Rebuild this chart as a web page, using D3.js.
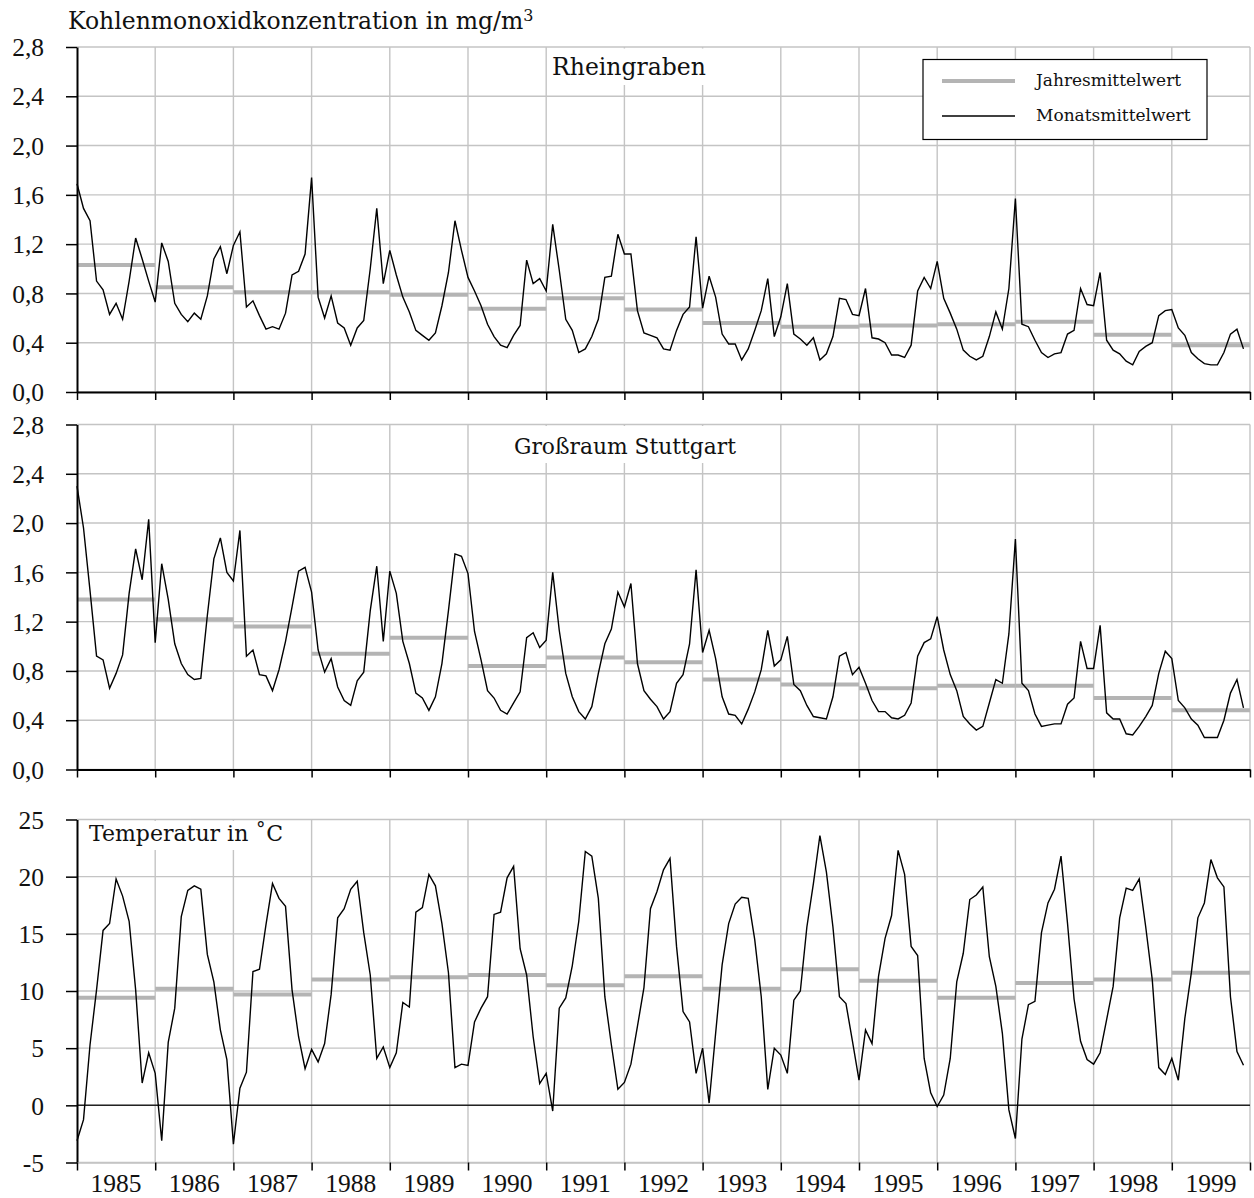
<!DOCTYPE html>
<html lang="de">
<head>
<meta charset="utf-8">
<title>Kohlenmonoxid und Temperatur 1985-1999</title>
<script src="https://cdn.jsdelivr.net/npm/d3@7"></script>
<style>
  html, body { margin: 0; padding: 0; background: #fff; }
  svg { display: block; }
</style>
</head>
<body>
<div id="chart"></div>
<script>
// --- Daten ---
const jahre = [1985, 1986, 1987, 1988, 1989, 1990, 1991, 1992, 1993, 1994, 1995, 1996, 1997, 1998, 1999];

// Rheingraben: Monatsmittelwerte CO in mg/m3 (Jan 1985 ... Dez 1999)
const coRheinMonat = [
  1.69, 1.49, 1.39, 0.90, 0.83, 0.63, 0.72, 0.59, 0.90, 1.25, 1.08, 0.90,
  0.73, 1.21, 1.06, 0.72, 0.63, 0.57, 0.64, 0.59, 0.78, 1.08, 1.18, 0.96,
  1.19, 1.30, 0.69, 0.74, 0.62, 0.51, 0.53, 0.51, 0.64, 0.95, 0.98, 1.12,
  1.74, 0.77, 0.60, 0.78, 0.56, 0.52, 0.38, 0.52, 0.58, 1.00, 1.49, 0.88,
  1.15, 0.95, 0.77, 0.65, 0.50, 0.46, 0.42, 0.48, 0.70, 0.97, 1.39, 1.15,
  0.93, 0.82, 0.70, 0.55, 0.45, 0.38, 0.36, 0.46, 0.54, 1.07, 0.88, 0.92,
  0.82, 1.36, 0.99, 0.59, 0.50, 0.32, 0.35, 0.45, 0.59, 0.93, 0.94, 1.28,
  1.12, 1.12, 0.66, 0.48, 0.46, 0.44, 0.35, 0.34, 0.50, 0.63, 0.69, 1.26,
  0.68, 0.94, 0.77, 0.47, 0.39, 0.39, 0.26, 0.35, 0.50, 0.66, 0.92, 0.45,
  0.61, 0.88, 0.47, 0.43, 0.38, 0.44, 0.26, 0.31, 0.45, 0.76, 0.75, 0.63,
  0.62, 0.84, 0.44, 0.43, 0.40, 0.30, 0.30, 0.28, 0.38, 0.82, 0.93, 0.84,
  1.06, 0.76, 0.64, 0.51, 0.34, 0.29, 0.26, 0.29, 0.45, 0.65, 0.51, 0.84,
  1.57, 0.55, 0.53, 0.42, 0.32, 0.28, 0.31, 0.32, 0.47, 0.50, 0.84, 0.71,
  0.70, 0.97, 0.42, 0.34, 0.31, 0.25, 0.22, 0.33, 0.37, 0.40, 0.62, 0.66,
  0.67, 0.52, 0.46, 0.32, 0.27, 0.23, 0.22, 0.22, 0.32, 0.47, 0.51, 0.35
];
const coRheinJahr = [1.03, 0.85, 0.81, 0.81, 0.79, 0.675, 0.76, 0.67, 0.56, 0.53, 0.54, 0.55, 0.57, 0.465, 0.38];

// Großraum Stuttgart: Monatsmittelwerte CO in mg/m3
const coStuttMonat = [
  2.30, 1.96, 1.45, 0.92, 0.89, 0.66, 0.78, 0.93, 1.43, 1.79, 1.54, 2.03,
  1.03, 1.67, 1.38, 1.02, 0.86, 0.77, 0.73, 0.74, 1.25, 1.71, 1.88, 1.60,
  1.53, 1.94, 0.92, 0.97, 0.77, 0.76, 0.64, 0.81, 1.04, 1.32, 1.61, 1.64,
  1.44, 0.97, 0.79, 0.90, 0.67, 0.56, 0.52, 0.72, 0.79, 1.29, 1.65, 1.04,
  1.61, 1.43, 1.04, 0.86, 0.62, 0.58, 0.48, 0.59, 0.86, 1.29, 1.75, 1.73,
  1.59, 1.12, 0.89, 0.64, 0.58, 0.48, 0.45, 0.54, 0.63, 1.07, 1.11, 0.99,
  1.05, 1.60, 1.13, 0.78, 0.59, 0.47, 0.41, 0.51, 0.78, 1.02, 1.14, 1.44,
  1.32, 1.51, 0.86, 0.64, 0.57, 0.51, 0.41, 0.47, 0.70, 0.77, 1.02, 1.62,
  0.95, 1.13, 0.90, 0.59, 0.45, 0.44, 0.37, 0.49, 0.63, 0.81, 1.13, 0.84,
  0.89, 1.08, 0.69, 0.64, 0.52, 0.43, 0.42, 0.41, 0.59, 0.92, 0.95, 0.77,
  0.83, 0.70, 0.56, 0.47, 0.47, 0.42, 0.41, 0.44, 0.54, 0.92, 1.03, 1.06,
  1.24, 0.97, 0.77, 0.64, 0.43, 0.37, 0.32, 0.35, 0.54, 0.73, 0.70, 1.10,
  1.87, 0.70, 0.64, 0.45, 0.35, 0.36, 0.37, 0.37, 0.53, 0.58, 1.04, 0.82,
  0.82, 1.17, 0.46, 0.41, 0.41, 0.29, 0.28, 0.35, 0.43, 0.52, 0.78, 0.96,
  0.90, 0.56, 0.50, 0.41, 0.36, 0.26, 0.26, 0.26, 0.40, 0.62, 0.73, 0.50
];
const coStuttJahr = [1.38, 1.22, 1.16, 0.94, 1.07, 0.84, 0.91, 0.87, 0.73, 0.69, 0.66, 0.68, 0.68, 0.58, 0.48];

// Temperatur in °C
const tempMonat = [
  -3.1, -1.25, 5.3, 10.1, 15.3, 15.9, 19.8, 18.3, 16.1, 10.1, 1.95, 4.6,
  2.8, -3.1, 5.5, 8.5, 16.5, 18.8, 19.2, 18.9, 13.2, 10.8, 6.6, 4.0,
  -3.4, 1.5, 2.9, 11.7, 11.9, 15.8, 19.4, 18.1, 17.4, 10.1, 6.0, 3.2,
  4.9, 3.8, 5.4, 9.7, 16.4, 17.2, 18.9, 19.6, 15.1, 11.4, 4.1, 5.1,
  3.3, 4.6, 9.0, 8.6, 16.9, 17.3, 20.2, 19.2, 15.9, 11.6, 3.3, 3.6,
  3.5, 7.3, 8.5, 9.5, 16.7, 16.9, 19.9, 20.9, 13.7, 11.4, 6.0, 1.9,
  2.8, -0.5, 8.5, 9.4, 12.2, 16.1, 22.2, 21.8, 18.1, 9.5, 5.3, 1.4,
  2.0, 3.6, 6.9, 10.3, 17.2, 18.7, 20.6, 21.6, 13.9, 8.2, 7.3, 2.8,
  5.0, 0.2, 6.3, 12.3, 15.9, 17.6, 18.2, 18.1, 14.5, 9.5, 1.4, 5.0,
  4.4, 2.8, 9.2, 10.0, 15.6, 19.4, 23.6, 20.4, 15.6, 9.5, 8.9, 5.6,
  2.2, 6.6, 5.4, 11.3, 14.6, 16.6, 22.3, 20.2, 13.9, 13.1, 4.1, 1.1,
  -0.1, 0.9, 4.1, 10.8, 13.3, 18.0, 18.4, 19.1, 13.0, 10.4, 6.3, -0.4,
  -2.9, 5.8, 8.8, 9.1, 15.1, 17.7, 18.9, 21.8, 15.9, 9.3, 5.6, 4.0,
  3.6, 4.6, 7.5, 10.4, 16.4, 19.0, 18.8, 19.8, 15.6, 11.0, 3.3, 2.7,
  4.1, 2.2, 7.6, 11.6, 16.4, 17.7, 21.5, 19.9, 19.1, 9.5, 4.7, 3.5
];
const tempJahr = [9.4, 10.2, 9.7, 11.0, 11.2, 11.4, 10.5, 11.3, 10.2, 11.9, 10.9, 9.4, 10.7, 11.0, 11.6];

// Achsenbeschriftungen
const coTicks = [0, 0.4, 0.8, 1.2, 1.6, 2.0, 2.4, 2.8];
const tempTicks = [-5, 0, 5, 10, 15, 20, 25];

// --- Layout ---
const breite = 1254, hoehe = 1198;
const links = 77, rechts = 1250;
const gitterFarbe = "#c4c4c4";
const mittelFarbe = "#b4b4b4";
const zahlFont = "'Liberation Serif', 'Times New Roman', serif";
const textFont = "'DejaVu Serif', serif";

const fmtCO = d => d3.format(".1f")(d).replace(".", ",");
const fmtTemp = d => String(d);

const svg = d3.select("#chart")
  .append("svg")
  .attr("width", breite)
  .attr("height", hoehe);

// gemeinsame x-Skala: Monatsindex 0..180 (12 Monate je Jahr)
const x = d3.scaleLinear().domain([0, 180]).range([links, rechts]);
const jahresGrenzen = d3.range(0, 181, 12);

const panels = [
  { monat: coRheinMonat, jahr: coRheinJahr, ticks: coTicks, oben: 47, unten: 392, fmt: fmtCO,
    titel: "Rheingraben", titelX: 629, titelY: 75, anker: "middle", groesse: 23.5, nullAchse: true },
  { monat: coStuttMonat, jahr: coStuttJahr, ticks: coTicks, oben: 424.5, unten: 769.5, fmt: fmtCO,
    titel: "Großraum Stuttgart", titelX: 625, titelY: 454, anker: "middle", groesse: 21.8, nullAchse: true },
  { monat: tempMonat, jahr: tempJahr, ticks: tempTicks, oben: 819.5, unten: 1162.5, fmt: fmtTemp,
    titel: "Temperatur in ˚C", titelX: 89, titelY: 841, anker: "start", groesse: 22, nullAchse: false }
];

panels.forEach(zeichnePanel);

function zeichnePanel(p) {
  const y = d3.scaleLinear()
    .domain([p.ticks[0], p.ticks[p.ticks.length - 1]])
    .range([p.unten, p.oben]);

  const g = svg.append("g");

  // horizontale Gitterlinien
  g.selectAll(".hgrid")
    .data(p.ticks)
    .join("line")
    .attr("x1", links).attr("x2", rechts)
    .attr("y1", d => y(d)).attr("y2", d => y(d))
    .attr("stroke", gitterFarbe)
    .attr("stroke-width", 1.4);

  // vertikale Gitterlinien an den Jahresgrenzen
  g.selectAll(".vgrid")
    .data(jahresGrenzen.slice(1))
    .join("line")
    .attr("x1", d => x(d)).attr("x2", d => x(d))
    .attr("y1", y.range()[1]).attr("y2", y.range()[0])
    .attr("stroke", gitterFarbe)
    .attr("stroke-width", 1.4);

  // Beschriftung mit weißem Hintergrund (unterbricht das Gitter)
  const label = g.append("text")
    .attr("x", p.titelX)
    .attr("y", p.titelY)
    .attr("text-anchor", p.anker)
    .style("font-family", textFont)
    .style("font-size", p.groesse + "px")
    .attr("fill", "#111")
    .text(p.titel);
  const bb = label.node().getBBox();
  g.insert("rect", "text")
    .attr("x", bb.x - 5)
    .attr("y", p.oben + 1.5)
    .attr("width", bb.width + 10)
    .attr("height", bb.y + bb.height + 4 - (p.oben + 1.5))
    .attr("fill", "#fff");

  // Jahresmittelwerte
  g.selectAll(".jahr")
    .data(p.jahr)
    .join("line")
    .attr("x1", (d, i) => x(i * 12))
    .attr("x2", (d, i) => x(i * 12 + 12))
    .attr("y1", d => y(d)).attr("y2", d => y(d))
    .attr("stroke", mittelFarbe)
    .attr("stroke-width", 4);

  // Nulllinie bei der Temperatur
  if (!p.nullAchse) {
    g.append("line")
      .attr("x1", links).attr("x2", rechts)
      .attr("y1", y(0)).attr("y2", y(0))
      .attr("stroke", "#222")
      .attr("stroke-width", 1.5);
  }

  // Monatsmittelwerte
  const linie = d3.line()
    .x((d, i) => x(i))
    .y(d => y(d));
  g.append("path")
    .datum(p.monat)
    .attr("fill", "none")
    .attr("stroke", "#000")
    .attr("stroke-width", 1.4)
    .attr("stroke-linejoin", "miter")
    .attr("d", linie);

  // y-Achse links
  const yAchse = g.append("g")
    .attr("transform", `translate(${links},0)`)
    .call(d3.axisLeft(y).tickValues(p.ticks).tickFormat(p.fmt).tickSize(11).tickSizeOuter(0).tickPadding(22));
  yAchse.select(".domain").attr("stroke", "#000").attr("stroke-width", 2);
  yAchse.selectAll(".tick line").attr("stroke", "#000").attr("stroke-width", 1.5);
  yAchse.selectAll(".tick text")
    .style("font-family", zahlFont)
    .style("font-size", "25.5px")
    .attr("fill", "#111")
    .attr("dy", "0.34em");

  // untere Achse: Striche an den Jahresgrenzen
  const xAchse = g.append("g")
    .attr("transform", `translate(0,${y(p.ticks[0])})`)
    .call(d3.axisBottom(x).tickValues(jahresGrenzen).tickFormat("").tickSize(8).tickSizeOuter(0));
  xAchse.select(".domain")
    .attr("stroke", p.nullAchse ? "#000" : gitterFarbe)
    .attr("stroke-width", p.nullAchse ? 2 : 1.4);
  xAchse.selectAll(".tick line").attr("stroke", "#000").attr("stroke-width", 1.5);
}

// Jahreszahlen unter dem unteren Diagramm
svg.selectAll(".jahrLabel")
  .data(jahre)
  .join("text")
  .attr("x", (d, i) => x(i * 12 + 6))
  .attr("y", 1192)
  .attr("text-anchor", "middle")
  .style("font-family", zahlFont)
  .style("font-size", "25.5px")
  .attr("fill", "#111")
  .text(d => d);

// Achsentitel oben
const titel = svg.append("text")
  .attr("x", 68)
  .attr("y", 29)
  .style("font-family", textFont)
  .style("font-size", "23.5px")
  .attr("fill", "#111");
titel.append("tspan").text("Kohlenmonoxidkonzentration in mg/m");
titel.append("tspan").attr("dy", -8).style("font-size", "16px").text("3");

// Legende
const legende = svg.append("g");
legende.append("rect")
  .attr("x", 923).attr("y", 59.5)
  .attr("width", 284).attr("height", 80)
  .attr("fill", "#fff")
  .attr("stroke", "#000")
  .attr("stroke-width", 1.2);
const legendeEintraege = [
  { text: "Jahresmittelwert", farbe: mittelFarbe, dicke: 4, y: 81 },
  { text: "Monatsmittelwert", farbe: "#000", dicke: 1.5, y: 116 }
];
legende.selectAll(".lline")
  .data(legendeEintraege)
  .join("line")
  .attr("x1", 942).attr("x2", 1015)
  .attr("y1", d => d.y).attr("y2", d => d.y)
  .attr("stroke", d => d.farbe)
  .attr("stroke-width", d => d.dicke);
legende.selectAll(".ltext")
  .data(legendeEintraege)
  .join("text")
  .attr("x", 1036)
  .attr("y", d => d.y + 5)
  .style("font-family", textFont)
  .style("font-size", "17px")
  .attr("fill", "#111")
  .text(d => d.text);
</script>
</body>
</html>
